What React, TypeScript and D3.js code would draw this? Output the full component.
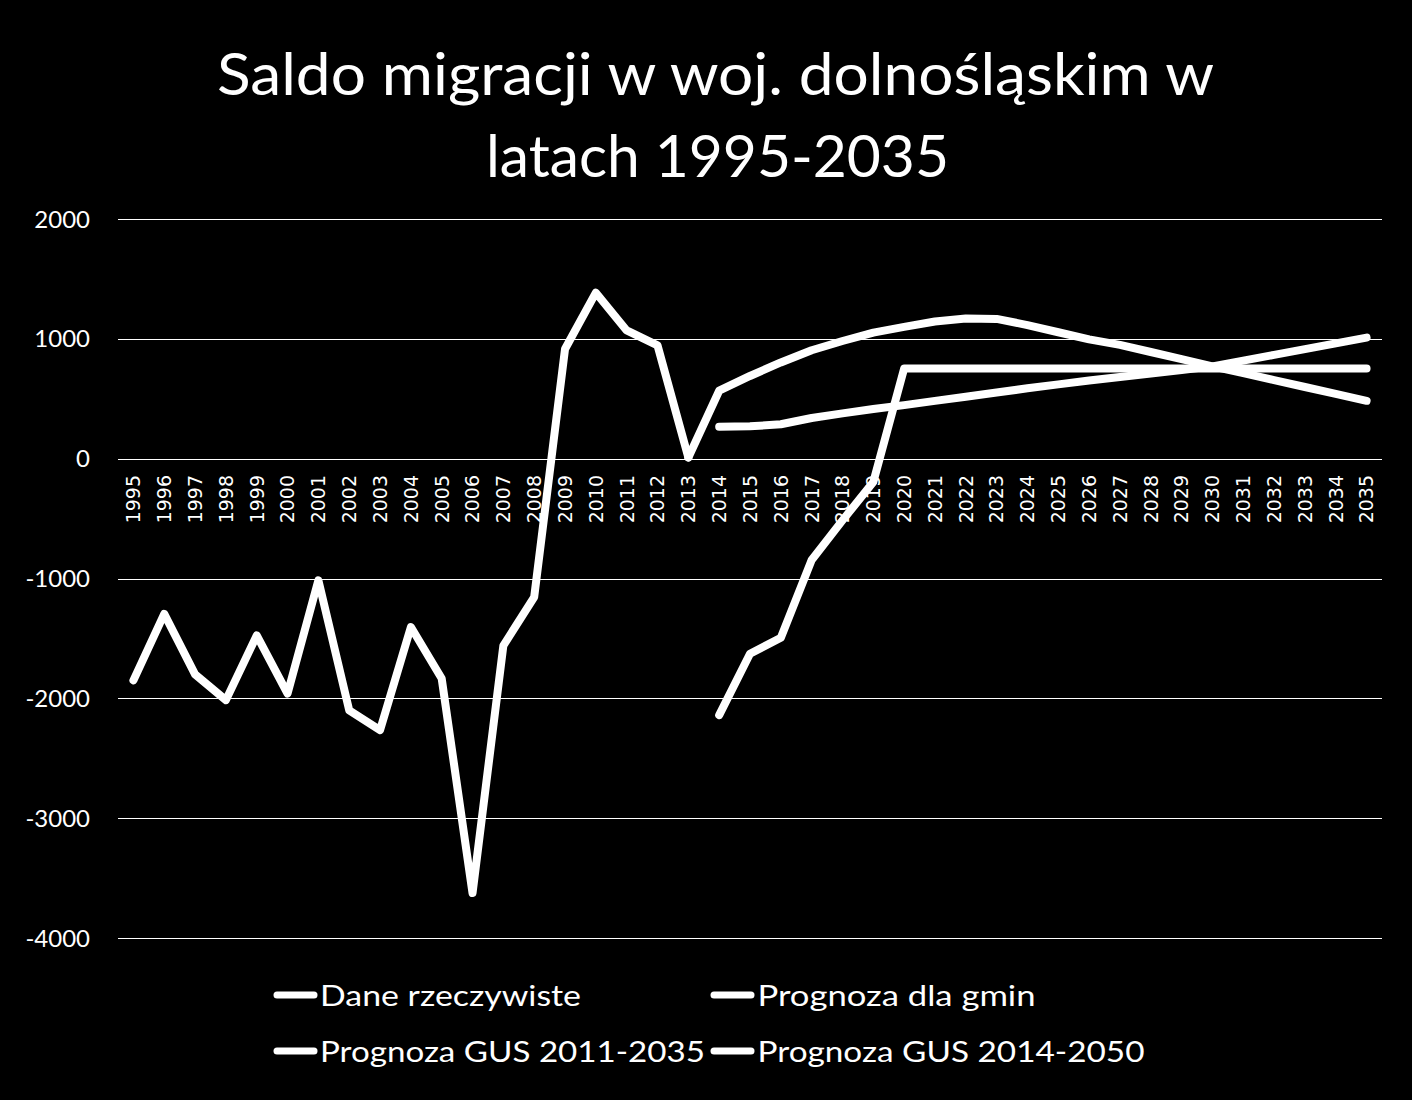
import React from 'react';
import * as d3 from 'd3';

// ---- data ----
const years: string[] = [
  '1995', '1996', '1997', '1998', '1999', '2000', '2001', '2002', '2003', '2004',
  '2005', '2006', '2007', '2008', '2009', '2010', '2011', '2012', '2013', '2014',
  '2015', '2016', '2017', '2018', '2019', '2020', '2021', '2022', '2023', '2024',
  '2025', '2026', '2027', '2028', '2029', '2030', '2031', '2032', '2033', '2034', '2035',
];

const yTicks: number[] = [2000, 1000, 0, -1000, -2000, -3000, -4000];

const titleLines: string[] = ['Saldo migracji w woj. dolnośląskim w', 'latach 1995-2035'];

const seriesNames: string[] = [
  'Dane rzeczywiste',
  'Prognoza dla gmin',
  'Prognoza GUS 2011-2035',
  'Prognoza GUS 2014-2050',
];

// Dane rzeczywiste: 1995–2013
const daneRzeczywisteStart = '1995';
const daneRzeczywiste: number[] = [
  -1850, -1295, -1800, -2015, -1475, -1960, -1015, -2100, -2265, -1405,
  -1835, -3625, -1560, -1155, 915, 1385, 1070, 945, 10,
];

// Prognoza dla gmin: 2014–2035
const prognozaGminStart = '2014';
const prognozaGmin: number[] = [
  -2140, -1628, -1495, -845, -515, -195, 752, 752, 752, 752, 752,
  752, 752, 752, 752, 752, 752, 752, 752, 752, 752, 752,
];

// Prognoza GUS 2011-2035: 2013–2035
const prognozaGus2011Start = '2013';
const prognozaGus2011: number[] = [
  10, 567, 690, 803, 905, 982, 1052, 1100, 1145, 1170, 1166, 1115,
  1055, 995, 950, 890, 830, 770, 714, 656, 598, 540, 483,
];

// Prognoza GUS 2014-2050: 2014–2035
const prognozaGus2014Start = '2014';
const prognozaGus2014: number[] = [
  267, 270, 287, 339, 378, 414, 447, 482, 517, 552, 587,
  620, 652, 682, 711, 740, 770, 818, 866, 914, 962, 1010,
];

// ---- layout ----
const W = 1412;
const H = 1100;
const PLOT_LEFT = 118;
const PLOT_RIGHT = 1382;
const PLOT_TOP = 219;
const PLOT_BOTTOM = 938;

const TITLE_FONT = 'Lato, "Open Sans", sans-serif';

type Pt = { year: string; value: number };

function toPoints(start: string, values: number[]): Pt[] {
  const i0 = years.indexOf(start);
  return values.map((v, i) => ({ year: years[i0 + i], value: v }));
}

export default function App() {
  const x = d3.scaleBand<string>().domain(years).range([PLOT_LEFT, PLOT_RIGHT]).padding(0);
  const y = d3.scaleLinear().domain([-4000, 2000]).range([PLOT_BOTTOM, PLOT_TOP]);
  const cx = (yr: string) => (x(yr) as number) + x.bandwidth() / 2;

  const line = d3
    .line<Pt>()
    .x((d) => cx(d.year))
    .y((d) => y(d.value));

  const series: Pt[][] = [
    toPoints(daneRzeczywisteStart, daneRzeczywiste),
    toPoints(prognozaGminStart, prognozaGmin),
    toPoints(prognozaGus2011Start, prognozaGus2011),
    toPoints(prognozaGus2014Start, prognozaGus2014),
  ];

  const legendPos = [
    { sx: 277, tx: 320, y: 995, tl: 261 },
    { sx: 714, tx: 757.5, y: 995, tl: 278 },
    { sx: 277, tx: 320, y: 1051, tl: 385 },
    { sx: 714, tx: 757.5, y: 1051, tl: 387 },
  ];

  return (
    <svg
      width={W}
      height={H}
      style={{ position: 'absolute', left: 0, top: 0, display: 'block', background: '#000' }}
    >
      <rect x={0} y={0} width={W} height={H} fill="#000" />

      {/* title */}
      <text
        x={715.5}
        y={95}
        textAnchor="middle"
        fill="#fff"
        fontFamily={TITLE_FONT}
        fontSize={58}
        textLength={997}
        lengthAdjust="spacingAndGlyphs"
      >
        {titleLines[0]}
      </text>
      <text
        x={717.5}
        y={177}
        textAnchor="middle"
        fill="#fff"
        fontFamily={TITLE_FONT}
        fontSize={58}
        textLength={463}
        lengthAdjust="spacingAndGlyphs"
      >
        {titleLines[1]}
      </text>

      {/* gridlines and y labels */}
      {yTicks.map((t) => (
        <g key={t}>
          <line
            x1={PLOT_LEFT}
            x2={PLOT_RIGHT}
            y1={Math.round(y(t)) + 0.5}
            y2={Math.round(y(t)) + 0.5}
            stroke="#ffffff"
            strokeWidth={1}
          />
          <text
            x={90}
            y={y(t)}
            dy="0.36em"
            textAnchor="end"
            fill="#fff"
            fontFamily={TITLE_FONT}
            fontSize={24}
          >
            {t}
          </text>
        </g>
      ))}

      {/* x labels */}
      {years.map((yr) => (
        <text
          key={yr}
          transform={`translate(${cx(yr)},475) rotate(-90)`}
          dy="0.36em"
          textAnchor="end"
          fill="#fff"
          fontFamily='"DejaVu Sans", sans-serif'
          fontSize={19}
        >
          {yr}
        </text>
      ))}

      {/* lines */}
      {series.map((s, i) => (
        <path
          key={seriesNames[i]}
          d={line(s) || ''}
          fill="none"
          stroke="#fff"
          strokeWidth={8}
          strokeLinejoin="round"
          strokeLinecap="round"
        />
      ))}

      {/* legend */}
      {seriesNames.map((name, i) => {
        const p = legendPos[i];
        return (
          <g key={name}>
            <line
              x1={p.sx}
              x2={p.sx + 37}
              y1={p.y}
              y2={p.y}
              stroke="#fff"
              strokeWidth={7}
              strokeLinecap="round"
            />
            <text
              x={p.tx}
              y={p.y + 10.5}
              fill="#fff"
              fontFamily={TITLE_FONT}
              fontSize={29}
              textLength={p.tl}
              lengthAdjust="spacingAndGlyphs"
            >
              {name}
            </text>
          </g>
        );
      })}
    </svg>
  );
}
